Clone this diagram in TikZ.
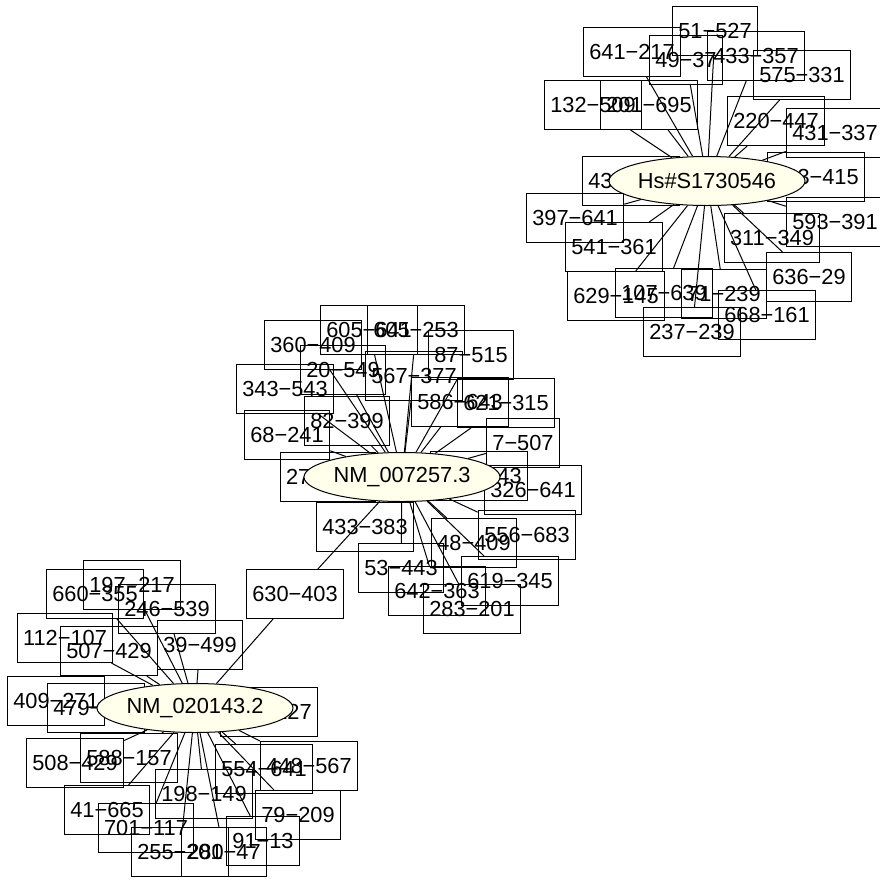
\documentclass[tikz,border=0pt]{standalone}
\usepackage{fontspec}
\setmainfont{Liberation Sans}
\usetikzlibrary{shapes.geometric, backgrounds}
\definecolor{hubfill}{RGB}{255,255,235}

\begin{document}
\begin{tikzpicture}[
    x=1pt, y=-1pt,
    every node/.style={font=\fontsize{21.8}{24}\selectfont},
    leaf/.style={draw, rectangle, line width=1pt, minimum height=49pt, inner xsep=6pt, inner ysep=0pt},
    hub/.style={draw, ellipse, line width=1pt, fill=hubfill, minimum width=196pt, minimum height=49pt, inner sep=0pt},
    link/.style={line width=1pt}
]
\useasboundingbox (0,0) rectangle (880,879);

% Hs#S1730546 group
\node[leaf] (t1) at (715,31) {51−527};
\node[leaf] (t2) at (632,52) {641−217};
\node[leaf] (t3) at (686,60) {49−37};
\node[leaf] (t4) at (756,56) {433−357};
\node[leaf] (t5) at (802,75) {575−331};
\node[leaf] (t6) at (593,105) {132−509};
\node[leaf] (t7) at (649,105) {201−695};
\node[leaf] (t8) at (776,121) {220−447};
\node[leaf] (t9) at (835,133) {431−337};
\node[leaf] (t10) at (816,177) {543−415};
\node[leaf] (t11) at (631,181) {436−587};
\node[leaf] (t12) at (575,218) {397−641};
\node[leaf] (t13) at (614,247) {541−361};
\node[leaf] (t14) at (772,238) {311−349};
\node[leaf] (t15) at (835,222) {593−391};
\node[leaf] (t16) at (809,277) {636−29};
\node[leaf] (t17) at (616,296) {629−145};
\node[leaf] (t18) at (664,293) {107−639};
\node[leaf] (t19) at (724,294) {71−239};
\node[leaf] (t20) at (767,315) {668−161};
\node[leaf] (t21) at (692,332) {237−239};

% NM_007257.3 group
\node[leaf] (m1) at (369,330) {605−641};
\node[leaf] (m2) at (416,330) {605−253};
\node[leaf] (m3) at (313,345) {360−409};
\node[leaf] (m4) at (343,370) {20−549};
\node[leaf] (m5) at (285,389) {343−543};
\node[leaf] (m6) at (471,355) {87−515};
\node[leaf] (m7) at (414,376) {567−377};
\node[leaf] (m8) at (347,421) {82−399};
\node[leaf] (m9) at (287,435) {68−241};
\node[leaf] (m10) at (460,402) {586−643};
\node[leaf] (m11) at (506,403) {621−315};
\node[leaf] (m12) at (523,443) {7−507};
\node[leaf] (m13) at (328,477) {272−611};
\node[leaf] (m14) at (479,476) {518−243};
\node[leaf] (m15) at (533,490) {326−641};
\node[leaf] (m16) at (365,527) {433−383};
\node[leaf] (m17) at (527,535) {556−683};
\node[leaf] (m18) at (474,543) {48−409};
\node[leaf] (m19) at (401,568) {53−443};
\node[leaf] (m20) at (510,581) {619−345};
\node[leaf] (m21) at (437,591) {642−363};
\node[leaf] (m22) at (472,609) {283−201};

% shared
\node[leaf] (c) at (295,594) {630−403};

% NM_020143.2 group
\node[leaf] (b1) at (95,594) {660−355};
\node[leaf] (b2) at (132,585) {197−217};
\node[leaf] (b3) at (167,609) {246−539};
\node[leaf] (b4) at (65,638) {112−107};
\node[leaf] (b5) at (109,651) {507−429};
\node[leaf] (b6) at (200,645) {39−499};
\node[leaf] (b7) at (56,701) {409−271};
\node[leaf] (b8) at (96,708) {479−305};
\node[leaf] (b9) at (269,712) {612−127};
\node[leaf] (b10) at (75,763) {508−429};
\node[leaf] (b11) at (129,758) {588−157};
\node[leaf] (b12) at (264,769) {554−641};
\node[leaf] (b13) at (309,766) {448−567};
\node[leaf] (b14) at (204,794) {198−149};
\node[leaf] (b15) at (107,810) {41−665};
\node[leaf] (b16) at (298,815) {79−209};
\node[leaf] (b17) at (146,828) {701−117};
\node[leaf] (b18) at (263,841) {91−13};
\node[leaf] (b19) at (180,852) {255−201};
\node[leaf] (b20) at (224,852) {280−47};

% hubs
\node[hub] (hs) at (707,181) {Hs\#S1730546};
\node[hub] (nm7) at (402,477) {NM\_007257.3};
\node[hub] (nm2) at (195,708) {NM\_020143.2};

\begin{scope}[on background layer]
\draw[link] (hs) -- (t1);
\draw[link] (hs) -- (t2);
\draw[link] (hs) -- (t3);
\draw[link] (hs) -- (t4);
\draw[link] (hs) -- (t5);
\draw[link] (hs) -- (t6);
\draw[link] (hs) -- (t7);
\draw[link] (hs) -- (t8);
\draw[link] (hs) -- (t9);
\draw[link] (hs) -- (t10);
\draw[link] (hs) -- (t11);
\draw[link] (hs) -- (t12);
\draw[link] (hs) -- (t13);
\draw[link] (hs) -- (t14);
\draw[link] (hs) -- (t15);
\draw[link] (hs) -- (t16);
\draw[link] (hs) -- (t17);
\draw[link] (hs) -- (t18);
\draw[link] (hs) -- (t19);
\draw[link] (hs) -- (t20);
\draw[link] (hs) -- (t21);

\draw[link] (nm7) -- (m1);
\draw[link] (nm7) -- (m2);
\draw[link] (nm7) -- (m3);
\draw[link] (nm7) -- (m4);
\draw[link] (nm7) -- (m5);
\draw[link] (nm7) -- (m6);
\draw[link] (nm7) -- (m7);
\draw[link] (nm7) -- (m8);
\draw[link] (nm7) -- (m9);
\draw[link] (nm7) -- (m10);
\draw[link] (nm7) -- (m11);
\draw[link] (nm7) -- (m12);
\draw[link] (nm7) -- (m13);
\draw[link] (nm7) -- (m14);
\draw[link] (nm7) -- (m15);
\draw[link] (nm7) -- (m16);
\draw[link] (nm7) -- (m17);
\draw[link] (nm7) -- (m18);
\draw[link] (nm7) -- (m19);
\draw[link] (nm7) -- (m20);
\draw[link] (nm7) -- (m21);
\draw[link] (nm7) -- (m22);
\draw[link] (nm7) -- (c);

\draw[link] (nm2) -- (c);
\draw[link] (nm2) -- (b1);
\draw[link] (nm2) -- (b2);
\draw[link] (nm2) -- (b3);
\draw[link] (nm2) -- (b4);
\draw[link] (nm2) -- (b5);
\draw[link] (nm2) -- (b6);
\draw[link] (nm2) -- (b7);
\draw[link] (nm2) -- (b8);
\draw[link] (nm2) -- (b9);
\draw[link] (nm2) -- (b10);
\draw[link] (nm2) -- (b11);
\draw[link] (nm2) -- (b12);
\draw[link] (nm2) -- (b13);
\draw[link] (nm2) -- (b14);
\draw[link] (nm2) -- (b15);
\draw[link] (nm2) -- (b16);
\draw[link] (nm2) -- (b17);
\draw[link] (nm2) -- (b18);
\draw[link] (nm2) -- (b19);
\draw[link] (nm2) -- (b20);
\end{scope}
\end{tikzpicture}
\end{document}
